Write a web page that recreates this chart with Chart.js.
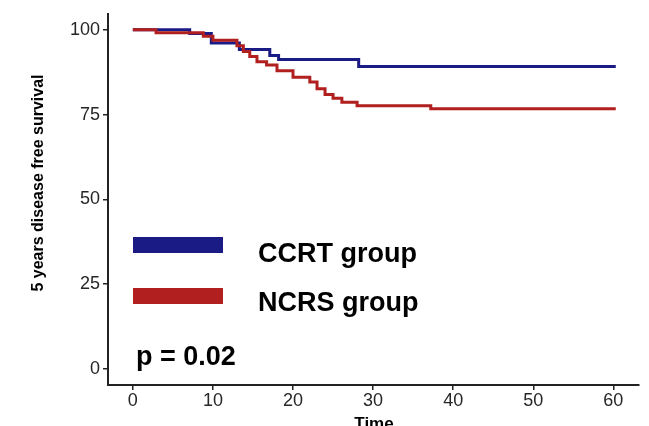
<!DOCTYPE html>
<html>
<head>
<meta charset="utf-8">
<script src="https://cdn.jsdelivr.net/npm/chart.js@4/dist/chart.umd.min.js"></script>
<style>
  body { margin: 0; background: #fff; }
  #wrap { width: 649px; height: 426px; position: relative; }
</style>
</head>
<body>
<div id="wrap"><canvas id="km"></canvas></div>
<script>
// Kaplan-Meier steps
const ccrtTime = [0, 7.1, 9.8, 13.3, 17.1, 18.2, 28.2, 60.3];
const ccrtSurv = [100, 98.9, 96.1, 94.2, 92.4, 91.2, 89.2, 89.2];
const ncrsTime = [0, 2.9, 8.8, 10.0, 13.0, 13.8, 14.6, 15.5, 16.7, 18.0, 20.0, 22.1, 23.0, 24.0, 25.0, 26.1, 28.0, 37.2, 60.3];
const ncrsSurv = [100, 99.1, 98.1, 96.9, 95.3, 93.6, 92.1, 90.6, 89.6, 87.9, 86.0, 84.6, 82.6, 80.9, 79.8, 78.6, 77.6, 76.7, 76.7];

const xTicks = [0, 10, 20, 30, 40, 50, 60];
const yTicks = [0, 25, 50, 75, 100];
const groupLabels = ['CCRT group', 'NCRS group'];
const pLabel = 'p = 0.02';

const FONT = '"Liberation Sans", Arial, sans-serif';
const blue = '#1b1b85';
const red = '#b21f1f';

function toPoints(t, s) {
    return t.map((v, i) => ({ x: v, y: s[i] }));
}

// titres, légende et p-value dessinés à la main
const overlay = {
    id: 'overlay',
    afterDraw(chart) {
        const ctx = chart.ctx;
        ctx.save();
        ctx.fillStyle = '#000';

        ctx.font = 'bold 16px ' + FONT;
        ctx.textAlign = 'center';
        ctx.textBaseline = 'middle';
        ctx.save();
        ctx.translate(39, 183);
        ctx.rotate(-Math.PI / 2);
        ctx.fillText('5 years disease free survival', 0, 0);
        ctx.restore();

        ctx.font = 'bold 17px ' + FONT;
        ctx.fillText('Time', 374, 424);

        const rows = [
            { ds: chart.data.datasets[0], top: 237, base: 262 },
            { ds: chart.data.datasets[1], top: 288, base: 311 }
        ];
        ctx.textAlign = 'left';
        ctx.textBaseline = 'alphabetic';
        ctx.font = 'bold 27px ' + FONT;
        rows.forEach(r => {
            ctx.fillStyle = r.ds.borderColor;
            ctx.fillRect(133, r.top, 90, 16);
            ctx.fillStyle = '#000';
            ctx.fillText(r.ds.label, 258, r.base);
        });

        ctx.fillText(pLabel, 136, 365);
        ctx.restore();
    }
};

new Chart(document.getElementById('km'), {
    type: 'line',
    data: {
        datasets: [
            {
                label: groupLabels[0],
                data: toPoints(ccrtTime, ccrtSurv),
                borderColor: blue,
                borderWidth: 3,
                stepped: 'before',
                pointRadius: 0,
                fill: false,
                order: 1
            },
            {
                label: groupLabels[1],
                data: toPoints(ncrsTime, ncrsSurv),
                borderColor: red,
                borderWidth: 3,
                stepped: 'before',
                pointRadius: 0,
                fill: false,
                order: 0
            }
        ]
    },
    options: {
        responsive: true,
        maintainAspectRatio: false,
        animation: false,
        layout: { padding: { top: 13, right: 10, left: 0, bottom: 0 } },
        plugins: { legend: { display: false }, tooltip: { enabled: false } },
        scales: {
            x: {
                type: 'linear',
                min: -3.1,
                max: 63.2,
                afterBuildTicks: s => { s.ticks = xTicks.map(v => ({ value: v })); },
                afterFit: s => { s.height = 41; },
                border: { display: true, color: '#222', width: 2 },
                grid: { drawOnChartArea: false, drawTicks: true, tickLength: 5, color: '#222', lineWidth: 1.5 },
                ticks: { color: '#262626', font: { family: FONT, size: 18 }, padding: 0, maxRotation: 0 }
            },
            y: {
                type: 'linear',
                min: -4.7,
                max: 104.7,
                afterBuildTicks: s => { s.ticks = yTicks.map(v => ({ value: v })); },
                afterFit: s => { s.width = 108; },
                border: { display: true, color: '#222', width: 2 },
                grid: { drawOnChartArea: false, drawTicks: true, tickLength: 5, color: '#222', lineWidth: 1.5 },
                ticks: { color: '#262626', font: { family: FONT, size: 18 }, padding: 3 }
            }
        }
    },
    plugins: [overlay]
});
</script>
</body>
</html>
